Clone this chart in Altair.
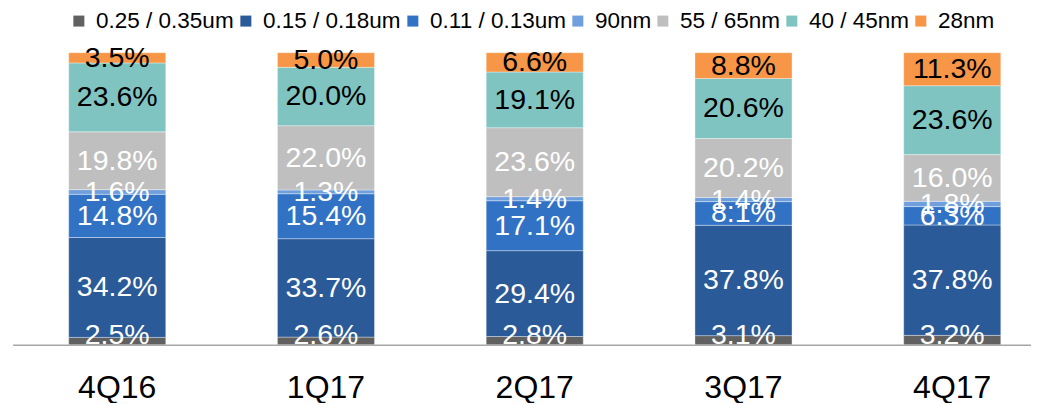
import altair as alt
import pandas as pd

quarters = ["4Q16", "1Q17", "2Q17", "3Q17", "4Q17"]
series = ["0.25 / 0.35um", "0.15 / 0.18um", "0.11 / 0.13um", "90nm", "55 / 65nm", "40 / 45nm", "28nm"]
colors = ["#616161", "#2a5a98", "#3272c4", "#6f9fdc", "#bfbfbf", "#80c4c2", "#f79646"]
label_colors = ["#ffffff", "#ffffff", "#ffffff", "#ffffff", "#ffffff", "#000000", "#000000"]

v_025 = [2.5, 2.6, 2.8, 3.1, 3.2]
v_015 = [34.2, 33.7, 29.4, 37.8, 37.8]
v_011 = [14.8, 15.4, 17.1, 8.1, 6.3]
v_90 = [1.6, 1.3, 1.4, 1.4, 1.8]
v_55 = [19.8, 22.0, 23.6, 20.2, 16.0]
v_40 = [23.6, 20.0, 19.1, 20.6, 23.6]
v_28 = [3.5, 5.0, 6.6, 8.8, 11.3]
values = [v_025, v_015, v_011, v_90, v_55, v_40, v_28]

rows = []
for si, (s, vals) in enumerate(zip(series, values)):
    for q, v in zip(quarters, vals):
        rows.append({"quarter": q, "series": s, "idx": si, "value": v,
                     "lc": label_colors[si]})
df = pd.DataFrame(rows)

FONT = "Liberation Sans"

base = alt.Chart(df).transform_stack(
    stack="value", groupby=["quarter"], as_=["y0", "y1"],
    sort=[alt.SortField("idx", order="ascending")]
).transform_calculate(
    mid="max((datum.y0 + datum.y1) / 2, 3.2)",
    label="format(datum.value, '.1f') + '%'"
)

xenc = alt.X("quarter:N", sort=quarters,
             scale=alt.Scale(paddingInner=0.535, paddingOuter=0.2057, align=0.653),
             axis=alt.Axis(title=None, labelAngle=0, ticks=False, labelFontSize=32,
                           labelFont=FONT, labelColor="#000000", labelPadding=28,
                           domainColor="#a6a6a6", domainWidth=1.5, grid=False))

bars = base.mark_bar(stroke="#ffffff", strokeWidth=0.6, strokeOpacity=0.6).encode(
    x=xenc,
    y=alt.Y("y0:Q", scale=alt.Scale(domain=[0, 100], nice=False), axis=None),
    y2="y1:Q",
    color=alt.Color("series:N", scale=alt.Scale(domain=series, range=colors),
                    legend=alt.Legend(orient="none", legendX=55, legendY=-43,
                                      direction="horizontal", columns=7, title=None,
                                      symbolType="square", symbolSize=121,
                                      symbolStrokeWidth=0, labelFontSize=22.5,
                                      labelFont=FONT, labelColor="#000000",
                                      labelOffset=6, columnPadding=-8, padding=0,
                                      labelLimit=300)),
)

texts = base.mark_text(fontSize=28.5, font=FONT, baseline="middle", align="center").encode(
    x=alt.X("quarter:N", sort=quarters),
    y=alt.Y("mid:Q"),
    text="label:N",
    color=alt.Color("lc:N", scale=None),
)

chart = alt.layer(bars, texts).properties(
    width=1018, height=292,
    autosize=alt.AutoSizeParams(type="none"),
    padding={"left": 4.6, "top": 44.7, "right": 0, "bottom": 58},
).configure_view(stroke=None)

chart.save("out.html", embed_options={"renderer": "svg", "actions": False})
